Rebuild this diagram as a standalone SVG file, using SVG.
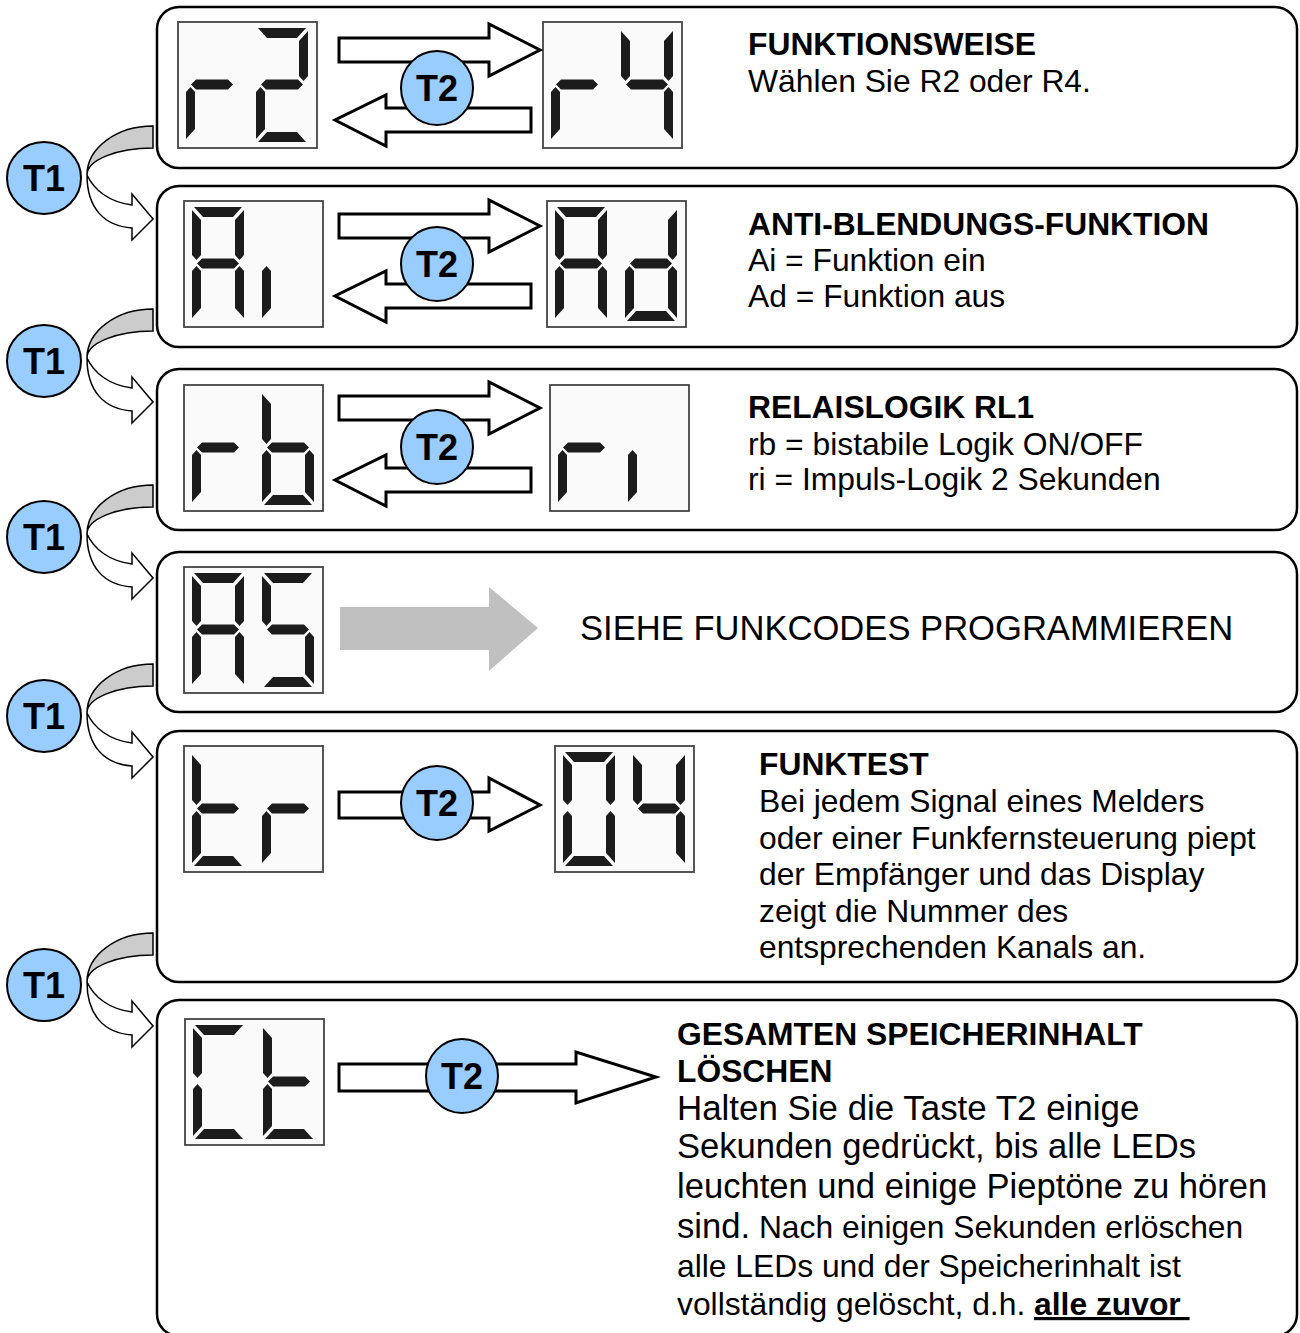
<svg xmlns="http://www.w3.org/2000/svg" width="1300" height="1333" viewBox="0 0 1300 1333">
<style>
.box{fill:#fff;stroke:#000;stroke-width:2.5}
.disp{fill:#fafafa;stroke:#444;stroke-width:1.8}
.seg{fill:#1c1c1c}
.arr{fill:#fff;stroke:#000;stroke-width:3;stroke-linejoin:miter}
.garr{fill:#c0c0c0;stroke:none}
.cgray{fill:#cccccc;stroke:#000;stroke-width:1.5}
.cwhite{fill:#fff;stroke:#000;stroke-width:1.5}
.btn{fill:#99ccff;stroke:#000;stroke-width:2}
.btxt{font-family:"Liberation Sans",Arial,sans-serif;font-weight:bold;font-size:36px;text-anchor:middle;fill:#000}
.t{font-family:"Liberation Sans",Arial,sans-serif;font-size:31.8px;fill:#000}
.b{font-weight:bold}
</style>
<defs>
<polygon id="sa" class="seg" points="2,0 50,0 41,10 11,10"/>
<polygon id="sb" class="seg" points="52,3 52,48 47.5,53 43,48 43,13"/>
<polygon id="sc" class="seg" points="52,111 52,64 47.5,59 43,64 43,101"/>
<polygon id="sd" class="seg" points="2,114 50,114 41,104 11,104"/>
<polygon id="se" class="seg" points="0,111 0,64 4.5,59 9,64 9,101"/>
<polygon id="sf" class="seg" points="0,3 0,48 4.5,53 9,48 9,13"/>
<polygon id="sg" class="seg" points="5,56.5 10,51.5 42,51.5 47,56.5 42,61.5 10,61.5"/>
<g id="ch-r"><use href="#se"/><use href="#sg"/></g>
<g id="ch-2"><use href="#sa"/><use href="#sb"/><use href="#sg"/><use href="#se"/><use href="#sd"/></g>
<g id="ch-4"><use href="#sf"/><use href="#sb"/><use href="#sg"/><use href="#sc"/></g>
<g id="ch-A"><use href="#sa"/><use href="#sb"/><use href="#sc"/><use href="#se"/><use href="#sf"/><use href="#sg"/></g>
<g id="ch-i"><use href="#se"/></g>
<g id="ch-d"><use href="#sb"/><use href="#sc"/><use href="#sd"/><use href="#se"/><use href="#sg"/></g>
<g id="ch-b"><use href="#sf"/><use href="#se"/><use href="#sd"/><use href="#sc"/><use href="#sg"/></g>
<g id="ch-S"><use href="#sa"/><use href="#sf"/><use href="#sg"/><use href="#sc"/><use href="#sd"/></g>
<g id="ch-t"><use href="#sf"/><use href="#se"/><use href="#sg"/><use href="#sd"/></g>
<g id="ch-0"><use href="#sa"/><use href="#sb"/><use href="#sc"/><use href="#sd"/><use href="#se"/><use href="#sf"/></g>
<g id="ch-C"><use href="#sa"/><use href="#sf"/><use href="#se"/><use href="#sd"/></g>
<rect id="dbox" class="disp" x="0" y="0" width="139" height="126"/>
<g id="curve">
<path class="cgray" d="M109,-52 A66,49 0 0 0 43,-3 A66,27 0 0 1 109,-30 Z"/>
<path class="cwhite" d="M43,-3 C43,30 60,48 88,50 L88,62 L109,41 L88,16 L88,27 C65,24 50,12 43,-3 Z"/>
</g>
</defs>

<!-- container boxes -->
<g id="row1"><rect class="box" x="157" y="7" width="1140" height="161" rx="22"/></g>
<g id="row2"><rect class="box" x="157" y="186" width="1140" height="161" rx="22"/></g>
<g id="row3"><rect class="box" x="157" y="369" width="1140" height="161" rx="22"/></g>
<g id="row4"><rect class="box" x="157" y="552" width="1140" height="160" rx="22"/></g>
<g id="row5"><rect class="box" x="157" y="731" width="1140" height="251" rx="22"/></g>
<g id="row6"><rect class="box" x="157" y="1000" width="1140" height="336" rx="22"/></g>

<!-- displays -->
<g id="disp-r2" transform="translate(178,22)"><use href="#dbox"/><use href="#ch-r" x="8" y="6"/><use href="#ch-2" x="78" y="6"/></g>
<g id="disp-r4" transform="translate(543,22)"><use href="#dbox"/><use href="#ch-r" x="8" y="6"/><use href="#ch-4" x="78" y="6"/></g>
<g id="disp-Ai" transform="translate(184,201)"><use href="#dbox"/><use href="#ch-A" x="8" y="6"/><use href="#ch-i" x="78" y="6"/></g>
<g id="disp-Ad" transform="translate(547,201)"><use href="#dbox"/><use href="#ch-A" x="8" y="6"/><use href="#ch-d" x="78" y="6"/></g>
<g id="disp-rb" transform="translate(184,385)"><use href="#dbox"/><use href="#ch-r" x="8" y="6"/><use href="#ch-b" x="78" y="6"/></g>
<g id="disp-ri" transform="translate(550,385)"><use href="#dbox"/><use href="#ch-r" x="8" y="6"/><use href="#ch-i" x="78" y="6"/></g>
<g id="disp-AS" transform="translate(184,567)"><use href="#dbox"/><use href="#ch-A" x="8" y="6"/><use href="#ch-S" x="78" y="6"/></g>
<g id="disp-tr" transform="translate(184,746)"><use href="#dbox"/><use href="#ch-t" x="8" y="6"/><use href="#ch-r" x="78" y="6"/></g>
<g id="disp-04" transform="translate(555,746)"><use href="#dbox"/><use href="#ch-0" x="8" y="6"/><use href="#ch-4" x="78" y="6"/></g>
<g id="disp-Ct" transform="translate(185,1019)"><use href="#dbox"/><use href="#ch-C" x="8" y="6"/><use href="#ch-t" x="78" y="6"/></g>

<!-- connectors -->
<g id="connectors">
<path class="arr" d="M339,38 H489 V24 L540,50 L489,76 V62 H339 Z"/>
<path class="arr" d="M531,108 H386 V95 L335,120 L386,146 V132 H531 Z"/>
<path class="arr" d="M339,214 H489 V200 L540,226 L489,252 V238 H339 Z"/>
<path class="arr" d="M531,284 H386 V271 L335,296 L386,322 V308 H531 Z"/>
<path class="arr" d="M339,396 H489 V382 L540,408 L489,434 V420 H339 Z"/>
<path class="arr" d="M531,468 H386 V455 L335,480 L386,506 V492 H531 Z"/>
<path class="garr" d="M340,607 H489 V587 L538,628 L489,671 V650 H340 Z"/>
<path class="arr" d="M339,792 H489 V778 L540,805 L489,831 V818 H339 Z"/>
<path class="arr" d="M339,1064 H576 V1052 L656,1077 L576,1103 V1091 H339 Z"/>
<use href="#curve" x="44" y="178"/>
<use href="#curve" x="44" y="361"/>
<use href="#curve" x="44" y="537"/>
<use href="#curve" x="44" y="716"/>
<use href="#curve" x="44" y="985"/>
</g>

<!-- buttons -->
<g id="t2-1"><ellipse class="btn" cx="437" cy="88" rx="36" ry="37"/><text class="btxt" x="437" y="101">T2</text></g>
<g id="t2-2"><ellipse class="btn" cx="437" cy="264" rx="36" ry="37"/><text class="btxt" x="437" y="277">T2</text></g>
<g id="t2-3"><ellipse class="btn" cx="437" cy="447" rx="36" ry="37"/><text class="btxt" x="437" y="460">T2</text></g>
<g id="t2-5"><ellipse class="btn" cx="437" cy="803" rx="36" ry="37"/><text class="btxt" x="437" y="816">T2</text></g>
<g id="t2-6"><ellipse class="btn" cx="462" cy="1076" rx="36" ry="37"/><text class="btxt" x="462" y="1089">T2</text></g>
<g id="t1-1"><ellipse class="btn" cx="44" cy="178" rx="37" ry="36"/><text class="btxt" x="44" y="191">T1</text></g>
<g id="t1-2"><ellipse class="btn" cx="44" cy="361" rx="37" ry="36"/><text class="btxt" x="44" y="374">T1</text></g>
<g id="t1-3"><ellipse class="btn" cx="44" cy="537" rx="37" ry="36"/><text class="btxt" x="44" y="550">T1</text></g>
<g id="t1-4"><ellipse class="btn" cx="44" cy="716" rx="37" ry="36"/><text class="btxt" x="44" y="729">T1</text></g>
<g id="t1-5"><ellipse class="btn" cx="44" cy="985" rx="37" ry="36"/><text class="btxt" x="44" y="998">T1</text></g>

<!-- texts -->
<g id="text1" class="t">
<text x="748" y="55" class="b">FUNKTIONSWEISE</text>
<text x="748" y="92">Wählen Sie R2 oder R4.</text>
</g>
<g id="text2" class="t">
<text x="748" y="235" class="b">ANTI-BLENDUNGS-FUNKTION</text>
<text x="748" y="271">Ai = Funktion ein</text>
<text x="748" y="307">Ad = Funktion aus</text>
</g>
<g id="text3" class="t">
<text x="748" y="418" class="b">RELAISLOGIK RL1</text>
<text x="748" y="455">rb = bistabile Logik ON/OFF</text>
<text x="748" y="490">ri = Impuls-Logik 2 Sekunden</text>
</g>
<g id="text4" class="t">
<text x="580" y="640" style="font-size:34.6px">SIEHE FUNKCODES PROGRAMMIEREN</text>
</g>
<g id="text5" class="t">
<text x="759" y="775" class="b">FUNKTEST</text>
<text x="759" y="812">Bei jedem Signal eines Melders</text>
<text x="759" y="849">oder einer Funkfernsteuerung piept</text>
<text x="759" y="885">der Empfänger und das Display</text>
<text x="759" y="922">zeigt die Nummer des</text>
<text x="759" y="958">entsprechenden Kanals an.</text>
</g>
<g id="text6" class="t">
<text x="677" y="1045" class="b">GESAMTEN SPEICHERINHALT</text>
<text x="677" y="1082" class="b">LÖSCHEN</text>
<text x="677" y="1120" style="font-size:34.9px">Halten Sie die Taste T2 einige</text>
<text x="677" y="1158" style="font-size:34.6px">Sekunden gedrückt, bis alle LEDs</text>
<text x="677" y="1198" style="font-size:34.6px">leuchten und einige Pieptöne zu hören</text>
<text x="677" y="1238"><tspan style="font-size:34.6px">sind.</tspan> Nach einigen Sekunden erlöschen</text>
<text x="677" y="1277">alle LEDs und der Speicherinhalt ist</text>
<text x="677" y="1315">vollständig gelöscht, d.h. <tspan class="b" text-decoration="underline">alle zuvor&#160;</tspan></text>
</g>
</svg>
